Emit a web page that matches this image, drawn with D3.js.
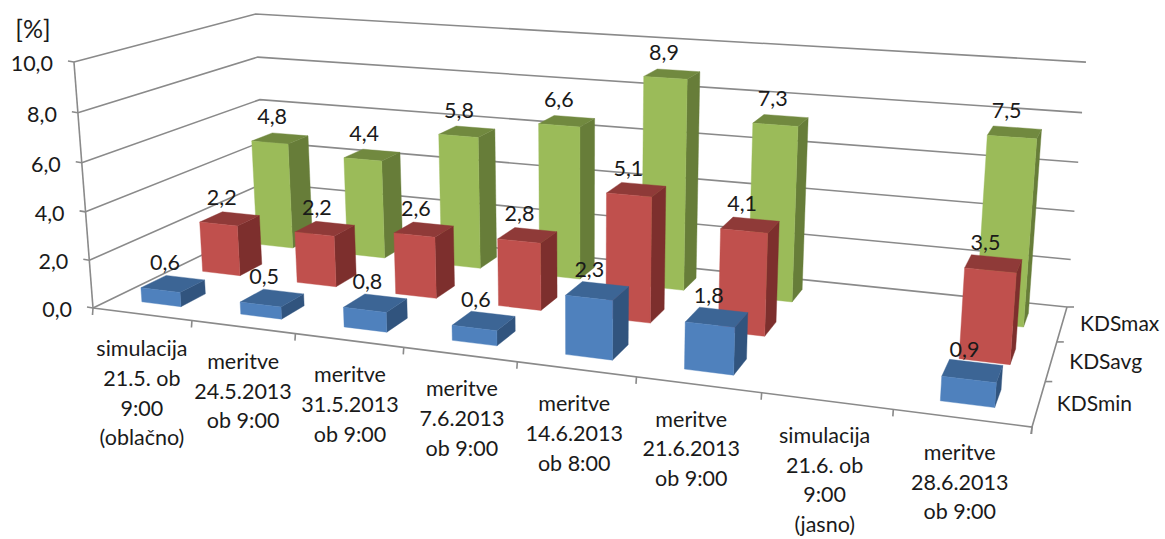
<!DOCTYPE html>
<html>
<head>
<meta charset="utf-8">
<script src="https://cdn.jsdelivr.net/npm/d3@7/dist/d3.min.js"></script>
<style>
  html, body { margin: 0; padding: 0; background: #fff; }
  svg { display: block; }
  text { font-family: Lato, "Open Sans", sans-serif; fill: #1a1a1a; }
</style>
</head>
<body>
<svg id="chart" width="1165" height="539"></svg>
<script>
// Measurement data: daylight factor per session
const categories = [
  ["simulacija", "21.5. ob", "9:00", "(oblačno)"],
  ["meritve", "24.5.2013", "ob 9:00"],
  ["meritve", "31.5.2013", "ob 9:00"],
  ["meritve", "7.6.2013", "ob 9:00"],
  ["meritve", "14.6.2013", "ob 8:00"],
  ["meritve", "21.6.2013", "ob 9:00"],
  ["simulacija", "21.6. ob", "9:00", "(jasno)"],
  ["meritve", "28.6.2013", "ob 9:00"]
];
const seriesNames = ["KDSmin", "KDSavg", "KDSmax"];
const kdsMin = [0.6, 0.5, 0.8, 0.6, 2.3, 1.8, null, 0.9];
const kdsAvg = [2.2, 2.2, 2.6, 2.8, 5.1, 4.1, null, 3.5];
const kdsMax = [4.8, 4.4, 5.8, 6.6, 8.9, 7.3, null, 7.5];
const seriesValues = [kdsMin, kdsAvg, kdsMax];
const faceColours = [
  { front: "#4f81bd", top: "#3c6595", side: "#31547e" },
  { front: "#c0504d", top: "#8f3a38", side: "#7d2f2d" },
  { front: "#9bbb59", top: "#71893f", side: "#677d39" }
];
const yMax = 10;

// Camera set-up: floor corners on screen [front-left, front-right, back-right, back-left],
// the vanishing point of the vertical edges, and the top of the value axis
const floorQuad = [[93, 308], [1032, 427], [1067, 307], [266, 224]];
const verticalVanish = [580, 6600];
const axisTopY = 62;

// Unit square to quadrilateral homography, returning homogeneous coordinates
function homography(q) {
  const [[x0, y0], [x1, y1], [x2, y2], [x3, y3]] = q;
  const dx1 = x1 - x2, dx2 = x3 - x2, sx = x0 - x1 + x2 - x3;
  const dy1 = y1 - y2, dy2 = y3 - y2, sy = y0 - y1 + y2 - y3;
  const det = dx1 * dy2 - dx2 * dy1;
  const g = (sx * dy2 - dx2 * sy) / det;
  const h = (dx1 * sy - sx * dy1) / det;
  const a = x1 - x0 + g * x1, b = x3 - x0 + h * x3;
  const d = y1 - y0 + g * y1, e = y3 - y0 + h * y3;
  return (u, v) => [a * u + b * v + x0, d * u + e * v + y0, g * u + h * v + 1];
}
const floorAt = homography(floorQuad);

const xBand = d3.scaleBand().domain(d3.range(categories.length)).range([0, 1])
  .paddingInner(0.6).paddingOuter(0.3);
const zBand = d3.scaleBand().domain(seriesNames).range([0, 1])
  .paddingInner(0.6).paddingOuter(0.3);
const xStep = 1 / categories.length;
const zStep = 1 / seriesNames.length;

// Homogeneous weight added per full axis height, fixed by the axis top
const rise = (() => {
  const s = (axisTopY - floorQuad[0][1]) / (verticalVanish[1] - floorQuad[0][1]);
  return s / (1 - s);
})();
const yScale = d3.scaleLinear().domain([0, yMax]).range([0, rise]);

// Category position, depth and value to screen coordinates
function project(u, w, val) {
  const [X, Y, W] = floorAt(u, w);
  const t = yScale(val);
  const den = W + t;
  return [(X + t * verticalVanish[0]) / den, (Y + t * verticalVanish[1]) / den];
}

const fmt = d3.formatLocale({ decimal: ",", thousands: ".", grouping: [3], currency: ["", ""] }).format(".1f");
const svg = d3.select("#chart");
const line = d3.line();
const gridColour = "#8a8a8a";

// Walls and floor outline
const frame = svg.append("g").attr("fill", "none").attr("stroke", gridColour).attr("stroke-width", 1.6);
yScale.ticks(5).forEach(v => {
  frame.append("path").attr("d", line([project(0, 0, v), project(0, 1, v), project(1, 1, v)]));
});
frame.append("path").attr("d", line([project(0, 0, 0), project(0, 0, yMax)]));
frame.append("path").attr("d", line([project(0, 0, 0), project(1, 0, 0), project(1, 1, 0)]));

// Value axis ticks and labels
yScale.ticks(5).forEach(v => {
  const p = project(0, 0, v);
  frame.append("path").attr("d", line([[p[0] - 6, p[1] - 1], p]));
  svg.append("text").attr("x", p[0] - 21).attr("y", p[1] + 1)
    .attr("text-anchor", "end").attr("dominant-baseline", "central")
    .attr("font-size", 21.5).text(fmt(v));
});
svg.append("text").attr("x", 33).attr("y", 28).attr("text-anchor", "middle")
  .attr("dominant-baseline", "central").attr("font-size", 25).text("[%]");

// Category ticks and labels
d3.range(categories.length + 1).forEach(i => {
  const p = project(i * xStep, 0, 0);
  frame.append("path").attr("d", line([p, [p[0] - 0.5, p[1] + 7]]));
});
const labelNudge = [0, 0, 1, 2, -2, -7, -2, -2];
categories.forEach((lines, i) => {
  const p = project((i + 0.5) * xStep, 0, 0);
  const label = svg.append("text").attr("text-anchor", "middle").attr("font-size", 21.5);
  lines.forEach((s, k) => {
    label.append("tspan").attr("x", p[0] + labelNudge[i]).attr("y", p[1] + 42 + k * 29.7).text(s);
  });
});

// Depth axis ticks and labels
d3.range(seriesNames.length + 1).forEach(i => {
  const p = project(1, i * zStep, 0);
  const end = i === 0 ? [p[0] - 1, p[1] + 7] : [p[0] + 7, p[1]];
  frame.append("path").attr("d", line([p, end]));
});
seriesNames.forEach((name, i) => {
  const p = project(1, (i + 0.5) * zStep, 0);
  svg.append("text").attr("x", p[0] + 18).attr("y", p[1] - 1)
    .attr("dominant-baseline", "central").attr("font-size", 21).text(name);
});

// Bars, painted from the back row to the front row
const bars = [];
seriesNames.forEach((name, s) => {
  seriesValues[s].forEach((value, c) => {
    if (value !== null) bars.push({ s, c, name, value });
  });
});
bars.sort((a, b) => b.s - a.s || a.c - b.c);

const barG = svg.selectAll("g.bar").data(bars).join("g").attr("class", "bar");
barG.each(function (d) {
  const g = d3.select(this);
  const x0 = xBand(d.c), x1 = x0 + xBand.bandwidth();
  const z0 = zBand(d.name), z1 = z0 + zBand.bandwidth();
  const col = faceColours[d.s];
  const quad = (pts, fill) => g.append("path")
    .attr("d", line(pts) + "Z").attr("fill", fill).attr("stroke", fill).attr("stroke-width", 0.4);
  quad([project(x1, z0, 0), project(x1, z1, 0), project(x1, z1, d.value), project(x1, z0, d.value)], col.side);
  quad([project(x0, z0, d.value), project(x1, z0, d.value), project(x1, z1, d.value), project(x0, z1, d.value)], col.top);
  quad([project(x0, z0, 0), project(x1, z0, 0), project(x1, z0, d.value), project(x0, z0, d.value)], col.front);
});

// Value labels sit above each bar's top face, over all bars
const labelG = svg.append("g");
bars.forEach(d => {
  const p = project(xBand(d.c) + xBand.bandwidth() / 2, zBand(d.name) + zBand.bandwidth() / 2, d.value);
  labelG.append("text").attr("x", p[0] - 8).attr("y", p[1] - 22)
    .attr("text-anchor", "middle").attr("dominant-baseline", "central")
    .attr("font-size", 21.5).text(fmt(d.value));
});
</script>
</body>
</html>
